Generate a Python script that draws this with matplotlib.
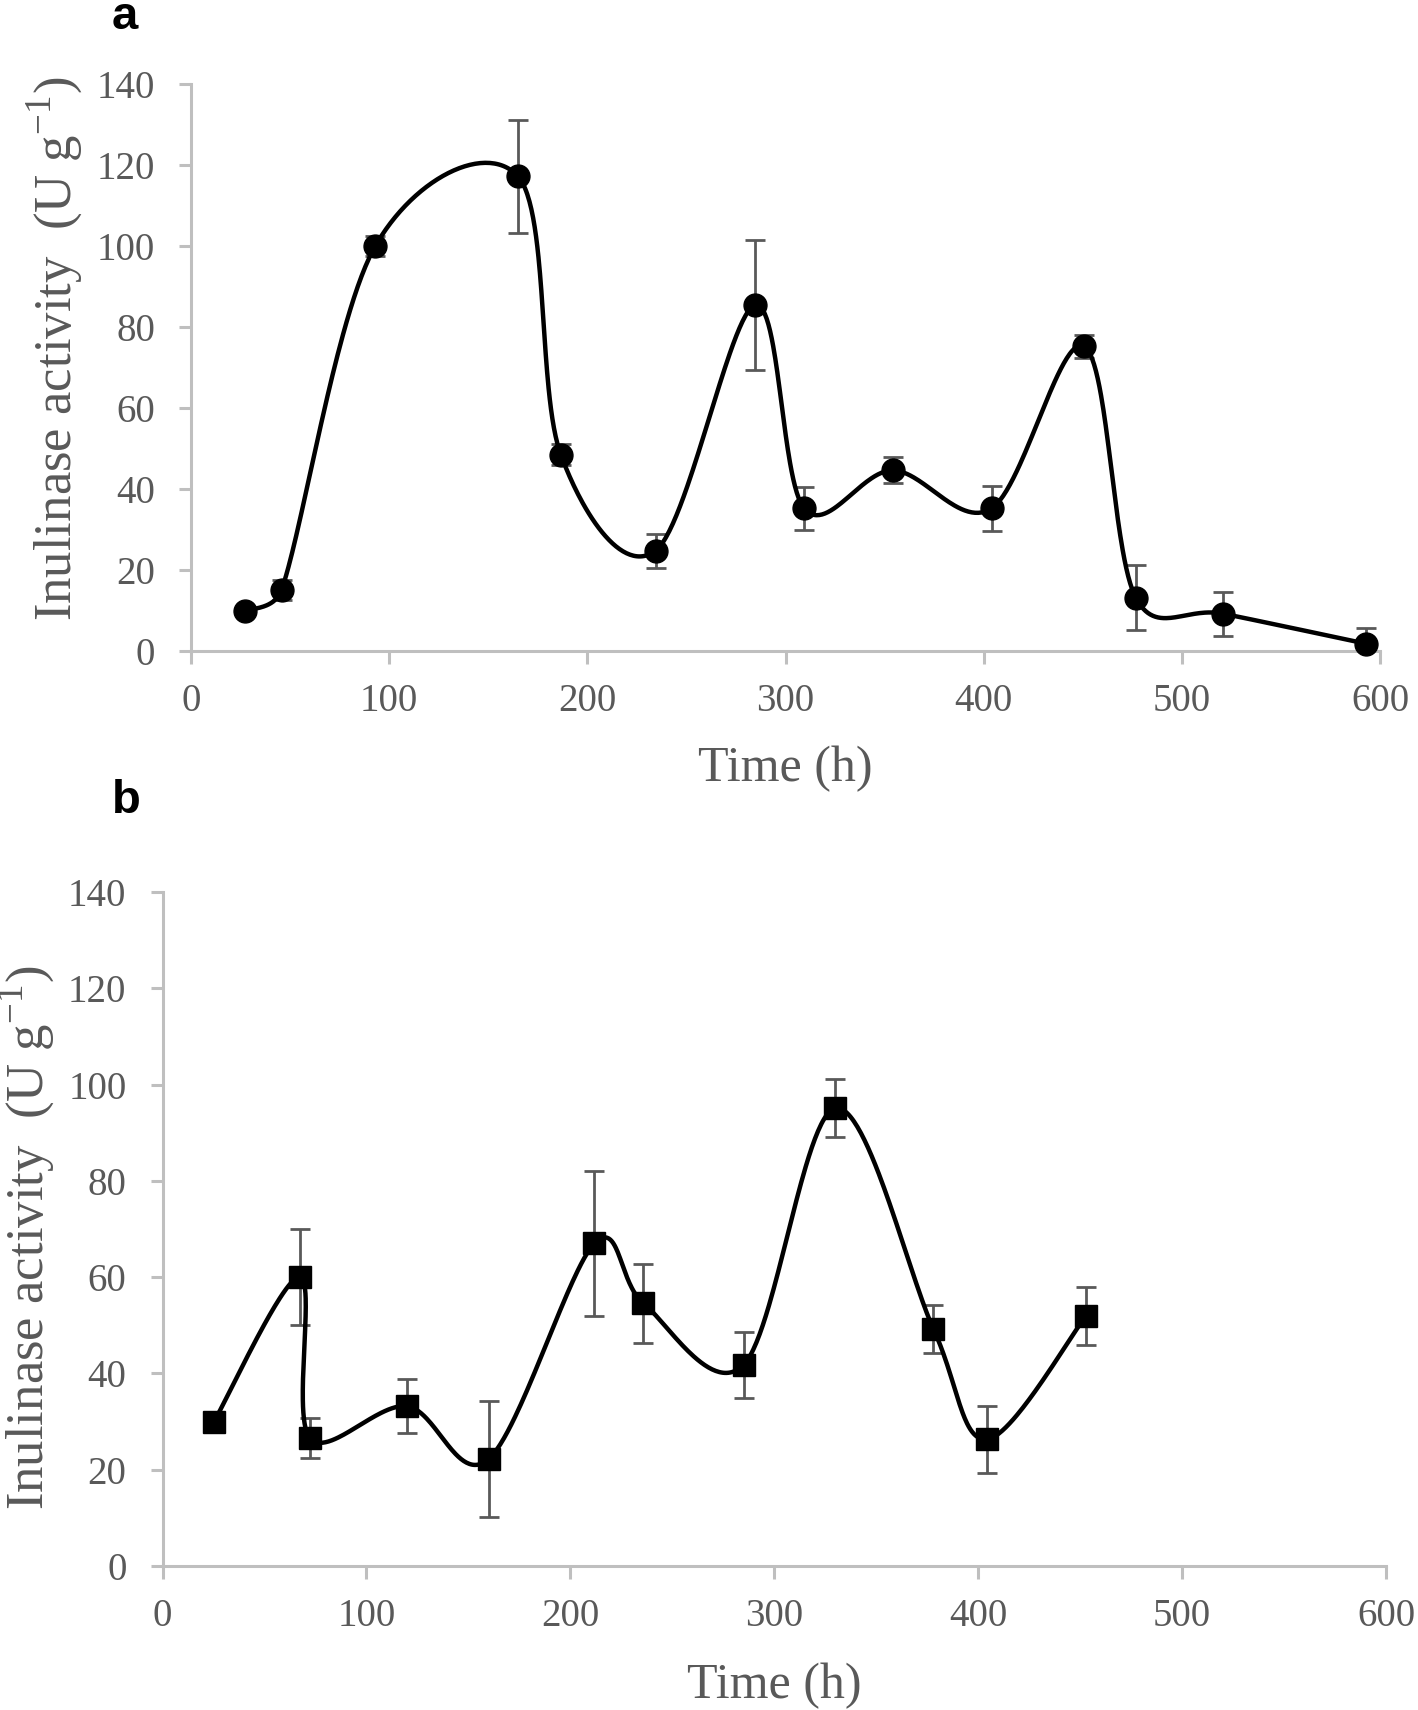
import numpy as np
import matplotlib
matplotlib.use("Agg")
import matplotlib.pyplot as plt

# ---- data ----
time_a = [27.5, 45.7, 93, 165, 186.6, 234.5, 284.6, 309.4, 354, 404, 450.8, 476.7, 521, 593]
act_a = [9.8, 15.1, 100.0, 117.2, 48.5, 24.8, 85.4, 35.2, 44.6, 35.2, 75.2, 13.2, 9.2, 1.8]
err_a = [1.0, 2.5, 2.5, 14.0, 2.5, 4.2, 16.0, 5.4, 3.2, 5.6, 2.8, 8.0, 5.4, 4.0]

time_b = [25.1, 67.4, 72.2, 119.8, 159.9, 211.8, 235.8, 285, 330, 378, 404.3, 453]
act_b = [29.9, 60.0, 26.6, 33.2, 22.2, 67.0, 54.6, 41.8, 95.1, 49.3, 26.3, 52.0]
err_b = [1.0, 10.0, 4.2, 5.6, 12.0, 15.0, 8.2, 6.8, 6.0, 5.0, 7.0, 6.0]

xticks = [0, 100, 200, 300, 400, 500, 600]
yticks = [0, 20, 40, 60, 80, 100, 120, 140]
ylabel = r'Inulinase activity  (U g$^{\mathregular{-1}}$)'
xlabel = 'Time (h)'

plt.rcParams['font.family'] = ['Liberation Serif', 'DejaVu Serif']
plt.rcParams['mathtext.fontset'] = 'custom'
plt.rcParams['mathtext.rm'] = 'Liberation Serif'

W, H = 1418, 1710
fig = plt.figure(figsize=(W / 100, H / 100), dpi=100)

GRAY_AX = '#bfbfbf'
GRAY_TXT = '#595959'


def make_axes(l, r, t, b):
    ax = fig.add_axes([l / W, 1 - b / H, (r - l) / W, (b - t) / H])
    ax.set_xlim(0, 600)
    ax.set_ylim(0, 140)
    ax.set_xticks(xticks)
    ax.set_yticks(yticks)
    for s in ['top', 'right']:
        ax.spines[s].set_visible(False)
    for s in ['left', 'bottom']:
        ax.spines[s].set_color(GRAY_AX)
        ax.spines[s].set_linewidth(2.2)
    ax.tick_params(axis='both', direction='out', length=9, width=2.2,
                   color=GRAY_AX, labelcolor=GRAY_TXT, labelsize=28)
    ax.tick_params(axis='x', pad=14)
    ax.tick_params(axis='y', pad=17)
    return ax


def excel_smooth(ax, x, y, n=60):
    P = ax.transData.transform(np.column_stack([x, y]))
    out = [P[0]]
    for i in range(len(P) - 1):
        p0 = P[i - 1] if i > 0 else P[i]
        p1 = P[i]
        p2 = P[i + 1]
        p3 = P[i + 2] if i + 2 < len(P) else P[i + 1]
        seg_len = np.hypot(*(p2 - p1))
        h1 = (p2 - p0) / 6.0
        h2 = (p3 - p1) / 6.0
        l1 = np.hypot(*h1)
        l2 = np.hypot(*h2)
        if l1 > seg_len / 2 and l1 > 0:
            h1 = h1 * (seg_len / 2) / l1
        if l2 > seg_len / 2 and l2 > 0:
            h2 = h2 * (seg_len / 2) / l2
        c1 = p1 + h1
        c2 = p2 - h2
        t = np.linspace(0, 1, n)[1:, None]
        seg = ((1 - t) ** 3) * p1 + 3 * ((1 - t) ** 2) * t * c1 + 3 * (1 - t) * (t ** 2) * c2 + (t ** 3) * p2
        out.extend(seg)
    out = np.array(out)
    d = ax.transData.inverted().transform(out)
    ax.plot(d[:, 0], d[:, 1], color='black', lw=3.2, zorder=3, clip_on=False)


# panel a
ax1 = make_axes(191, 1380, 84, 651)
ax1.errorbar(time_a, act_a, yerr=err_a, fmt='none', ecolor=GRAY_TXT,
             elinewidth=2.0, capsize=7, capthick=2.0, zorder=2)
excel_smooth(ax1, time_a, act_a)
ax1.plot(time_a, act_a, 'o', color='black', ms=16.5, zorder=4, clip_on=False)

# panel b
ax2 = make_axes(162.5, 1386, 892, 1566)
ax2.errorbar(time_b, act_b, yerr=err_b, fmt='none', ecolor=GRAY_TXT,
             elinewidth=2.0, capsize=7, capthick=2.0, zorder=2)
excel_smooth(ax2, time_b, act_b)
ax2.plot(time_b, act_b, 's', color='black', ms=16, zorder=4, clip_on=False)

# labels
fig.text(55 / W, 1 - 349 / H, ylabel, rotation=90, ha='center', va='center',
         fontsize=38, color=GRAY_TXT)
fig.text(27 / W, 1 - 1238 / H, ylabel, rotation=90, ha='center', va='center',
         fontsize=38, color=GRAY_TXT)
fig.text(785 / W, 1 - 769 / H, xlabel, ha='center', va='center',
         fontsize=36, color=GRAY_TXT)
fig.text(774 / W, 1 - 1686 / H, xlabel, ha='center', va='center',
         fontsize=36, color=GRAY_TXT)

fig.text(125 / W, 1 - 29 / H, 'a', ha='center', va='baseline', fontsize=34,
         fontweight='bold', family='Liberation Sans', color='black')
fig.text(126 / W, 1 - 813 / H, 'b', ha='center', va='baseline', fontsize=34,
         fontweight='bold', family='Liberation Sans', color='black')

fig.savefig('out.png', dpi=100, facecolor='white')
